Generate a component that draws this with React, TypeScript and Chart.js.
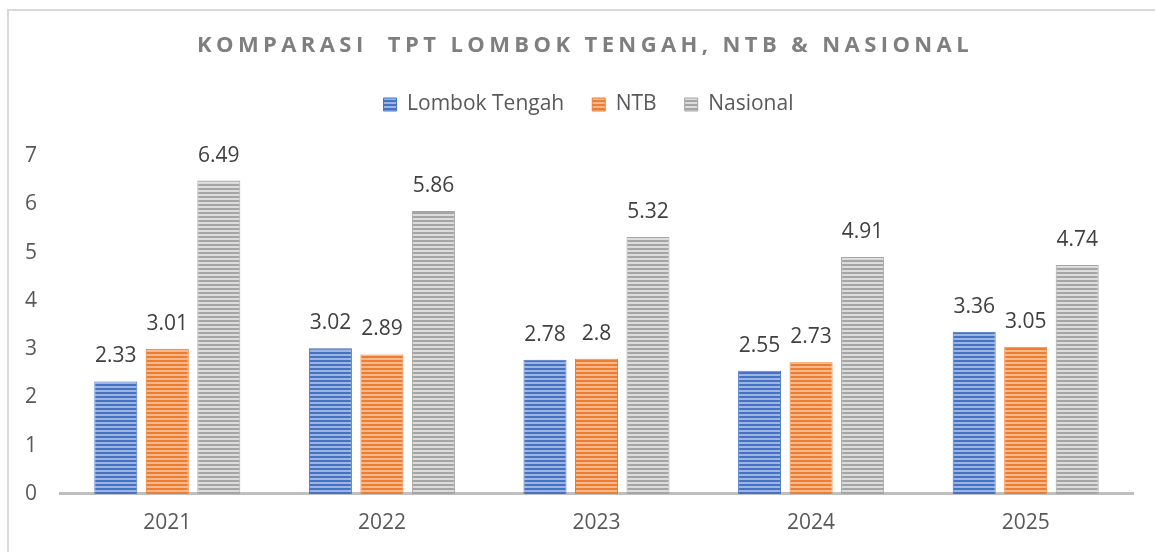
import React, { useEffect, useRef } from "react";
import { Chart, registerables } from "chart.js";

Chart.register(...registerables);

const categories = ["2021", "2022", "2023", "2024", "2025"];
const lombokTengah = [2.33, 3.02, 2.78, 2.55, 3.36];
const ntb = [3.01, 2.89, 2.8, 2.73, 3.05];
const nasional = [6.49, 5.86, 5.32, 4.91, 4.74];
const seriesNames = ["Lombok Tengah", "NTB", "Nasional"];
const titleText = "KOMPARASI  TPT LOMBOK TENGAH, NTB & NASIONAL";

const FONT = "'Open Sans', sans-serif";

function stripePattern(dark: string, light: string): CanvasPattern | string {
  const c = document.createElement("canvas");
  c.width = 4;
  c.height = 4;
  const g = c.getContext("2d");
  if (!g) return dark;
  g.fillStyle = light;
  g.fillRect(0, 0, 4, 4);
  g.fillStyle = dark;
  g.fillRect(0, 0, 4, 2);
  const p = g.createPattern(c, "repeat");
  return p || dark;
}

export default function App() {
  const ref = useRef<HTMLCanvasElement | null>(null);

  useEffect(() => {
    document.body.style.margin = "0";
    const canvas = ref.current;
    if (!canvas) return;

    const blue = stripePattern("#4472c4", "#9db5e0");
    const orange = stripePattern("#ed7d31", "#f6b88d");
    const grey = stripePattern("#a5a5a5", "#dcdcdc");

    const framePlugin = {
      id: "frame",
      beforeDraw(chart: any) {
        const ctx = chart.ctx;
        ctx.save();
        ctx.fillStyle = "#ffffff";
        ctx.fillRect(0, 0, chart.width, chart.height);
        ctx.strokeStyle = "#d9d9d9";
        ctx.lineWidth = 2;
        ctx.strokeRect(8, 10, chart.width + 40, chart.height + 40);
        ctx.restore();
      },
      afterDraw(chart: any) {
        const ctx = chart.ctx;
        ctx.save();
        ctx.font = `bold 22px ${FONT}`;
        (ctx as any).letterSpacing = "4.4px";
        ctx.fillStyle = "#7f7f7f";
        ctx.textAlign = "center";
        ctx.textBaseline = "middle";
        ctx.fillText(titleText, 585, 46);
        ctx.restore();
      },
    };

    const labelPlugin = {
      id: "valueLabels",
      afterDatasetsDraw(chart: any) {
        const ctx = chart.ctx;
        ctx.save();
        ctx.font = `21px ${FONT}`;
        ctx.fillStyle = "#404040";
        ctx.textAlign = "center";
        ctx.textBaseline = "middle";
        chart.data.datasets.forEach((ds: any, i: number) => {
          const meta = chart.getDatasetMeta(i);
          meta.data.forEach((bar: any, j: number) => {
            ctx.fillText(String(ds.data[j]), bar.x, bar.y - 25);
          });
        });
        ctx.restore();
      },
    };

    const legendTweak = {
      id: "legendTweak",
      beforeInit(chart: any) {
        const legend = chart.legend;
        if (!legend) return;
        const origFit = legend.fit;
        legend.fit = function () {
          origFit.call(this);
          this.height += 31;
        };
        const origDraw = legend.draw;
        legend.draw = function () {
          const ctx = this.ctx;
          ctx.save();
          ctx.translate(22, 0);
          origDraw.call(this);
          ctx.restore();
        };
      },
    };

    const mk = (label: string, data: number[], fill: any, border: string) => ({
      label,
      data,
      backgroundColor: fill,
      borderColor: border,
      borderWidth: 1,
      categoryPercentage: 0.72,
      barPercentage: 0.835,
    });

    const chart = new Chart(canvas, {
      type: "bar",
      data: {
        labels: categories,
        datasets: [
          mk(seriesNames[0], lombokTengah, blue, "#4472c4"),
          mk(seriesNames[1], ntb, orange, "#ed7d31"),
          mk(seriesNames[2], nasional, grey, "#a5a5a5"),
        ],
      },
      options: {
        animation: false,
        responsive: false,
        maintainAspectRatio: false,
        layout: { padding: { top: 66, right: 22, bottom: 0, left: 0 } },
        plugins: {
          title: { display: false },
          tooltip: { enabled: false },
          legend: {
            display: true,
            position: "top",
            labels: {
              boxWidth: 13,
              boxHeight: 13,
              padding: 28,
              color: "#595959",
              font: { family: FONT, size: 21 },
            },
          },
        },
        scales: {
          x: {
            grid: { display: false, drawTicks: false },
            border: { display: true, color: "#bfbfbf", width: 3 },
            ticks: { color: "#595959", padding: 18, font: { family: FONT, size: 21, lineHeight: 1.05 } },
          },
          y: {
            min: 0,
            max: 7,
            grid: { display: false, drawTicks: false },
            border: { display: false },
            ticks: { stepSize: 1, color: "#595959", padding: 23, font: { family: FONT, size: 21 } },
            afterFit(scale: any) {
              scale.width = 60;
            },
          },
        },
      },
      plugins: [framePlugin, labelPlugin, legendTweak],
    } as any);

    return () => chart.destroy();
  }, []);

  return (
    <div style={{ width: 1155, height: 552 }}>
      <canvas ref={ref} width={1155} height={552} style={{ display: "block" }} />
    </div>
  );
}
